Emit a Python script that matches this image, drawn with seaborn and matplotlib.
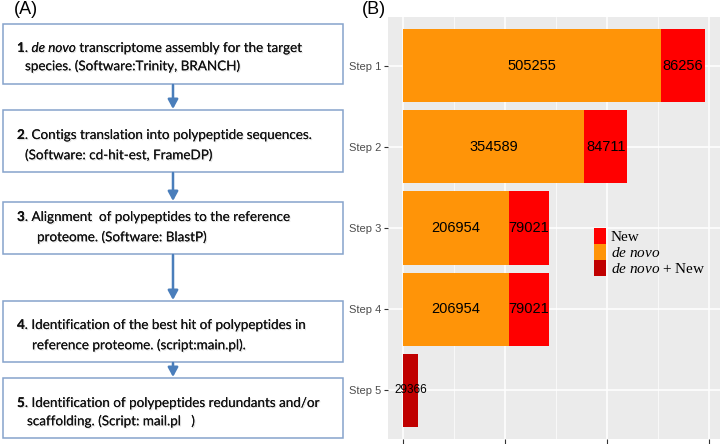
import matplotlib
matplotlib.use("Agg")
import matplotlib.pyplot as plt
import matplotlib.patheffects as pe
from matplotlib.patches import Rectangle, Patch
import pandas as pd
import seaborn as sns

# data for panel B
steps = ["Step 1", "Step 2", "Step 3", "Step 4", "Step 5"]
de_novo = [505255, 354589, 206954, 206954, 0]
new = [86256, 84711, 79021, 79021, 0]
combined = [0, 0, 0, 0, 29366]

# text of the flowchart (panel A)
box_lines = [
    [[("1", "bold"), (". ", "normal"), ("de novo", "italic"),
      (" transcriptome assembly for the target", "normal")],
     [("species. (Software:Trinity, BRANCH)", "normal")]],
    [[("2", "bold"), (". Contigs translation into polypeptide sequences.", "normal")],
     [("(Software: cd-hit-est, FrameDP)", "normal")]],
    [[("3", "bold"), (". Alignment  of polypeptides to the reference", "normal")],
     [("proteome. (Software: BlastP)", "normal")]],
    [[("4", "bold"), (". Identification of the best hit of polypeptides in", "normal")],
     [("reference proteome. (script:main.pl).", "normal")]],
    [[("5", "bold"), (". Identification of polypeptides redundants and/or", "normal")],
     [("scaffolding. (Script: mail.pl   )", "normal")]],
]

orange = "#FF9408"
red = "#FF0000"
darkred = "#C00000"

plt.rcParams["mathtext.fontset"] = "custom"
plt.rcParams["mathtext.it"] = "Liberation Serif:italic"
plt.rcParams["mathtext.rm"] = "Liberation Serif"

fig = plt.figure(figsize=(7.2, 4.44), dpi=100)
bg = fig.add_axes([0, 0, 1, 1])
bg.set_xlim(0, 720)
bg.set_ylim(444, 0)
bg.axis("off")

renderer = fig.canvas.get_renderer()


def text_width(s, style, size):
    kw = dict(fontsize=size, family="Lato")
    if style == "bold":
        kw["fontweight"] = "bold"
    if style == "italic":
        kw["fontstyle"] = "italic"
    t1 = bg.text(0, 0, s + "x", **kw)
    t2 = bg.text(0, 0, "x", **kw)
    w = t1.get_window_extent(renderer).width - t2.get_window_extent(renderer).width
    t1.remove()
    t2.remove()
    return w


def rich_line(x, y, parts, size=9.7):
    for s, style in parts:
        kw = dict(fontsize=size, family="Lato", va="center", ha="left", color="#111111")
        if style == "bold":
            kw["fontweight"] = "bold"
        if style == "italic":
            kw["fontstyle"] = "italic"
        t = bg.text(x, y, s, **kw)
        t.set_path_effects([pe.withSimplePatchShadow(offset=(0.8, -0.8), shadow_rgbFace="gray", alpha=0.25),
                            pe.Normal()])
        x += text_width(s, style, size)


boxes = [(24, 84), (110, 172), (202, 254), (301, 362), (378, 438)]
line_pos = [((17, 48), (25, 66)), ((17, 135), (25, 155)), ((17, 217), (37, 237)),
            ((17, 325), (32, 345)), ((17, 403), (27, 421))]

for (top, bot), lines, pos in zip(boxes, box_lines, line_pos):
    bg.add_patch(Rectangle((3, top), 340, bot - top, fill=False, edgecolor="#86A3CC", lw=1.1))
    for parts, (lx, ly) in zip(lines, pos):
        rich_line(lx, ly, parts)

for i in range(len(boxes) - 1):
    bg.annotate("", xy=(173, boxes[i + 1][0] - 1), xytext=(173, boxes[i][1] + 1),
                arrowprops=dict(arrowstyle="-|>,head_width=0.3,head_length=0.55",
                                color="#4A7EBB", lw=1.8, shrinkA=0, shrinkB=0))

bg.text(26, 10, "(A)", fontsize=13, family="Liberation Sans", ha="center", va="center")
bg.text(374, 10, "(B)", fontsize=13, family="Liberation Sans", ha="center", va="center")

# panel B
axb = fig.add_axes([388 / 720, 5 / 444, 332 / 720, 422 / 444])
df = pd.DataFrame({"step": steps, "de_novo": de_novo, "new": new, "combined": combined})
df["total"] = df["de_novo"] + df["new"] + df["combined"]
tot_colors = [darkred if c > 0 else red for c in combined]

sns.barplot(data=df, x="total", y="step", hue="step", palette=tot_colors, width=0.9,
            saturation=1, legend=False, ax=axb, zorder=2)
sns.barplot(data=df, x="de_novo", y="step", color=orange, width=0.9,
            saturation=1, ax=axb, zorder=3)

for i in range(len(steps)):
    if de_novo[i] > 0:
        axb.text(de_novo[i] / 2, i, str(de_novo[i]), ha="center", va="center",
                 fontsize=10.5, family="Liberation Sans", zorder=5)
    if new[i] > 0:
        axb.text(de_novo[i] + new[i] / 2, i, str(new[i]), ha="center", va="center",
                 fontsize=10.5, family="Liberation Sans", zorder=5)
    if combined[i] > 0:
        axb.text(combined[i] / 2, i, str(combined[i]), ha="center", va="center",
                 fontsize=8.5, family="Liberation Sans", zorder=5)

xmax = df["total"].max()
axb.set_xlim(-0.05 * xmax, 1.05 * xmax)
axb.set_ylim(len(steps) - 0.4, -0.6)
axb.set_facecolor("#EBEBEB")
for s in axb.spines.values():
    s.set_visible(False)
axb.set_xticks([0, 200000, 400000, 600000])
axb.set_xticks([100000, 300000, 500000], minor=True)
axb.set_xticklabels([])
axb.grid(True, which="major", color="white", lw=1.1)
axb.grid(True, which="minor", axis="x", color="white", lw=0.5)
axb.set_axisbelow(True)
axb.tick_params(axis="x", which="major", length=4, color="#333333")
axb.tick_params(axis="x", which="minor", length=0)
axb.tick_params(axis="y", length=3, color="#333333", labelsize=8, labelcolor="#4D4D4D", pad=2)
for lab in axb.get_yticklabels():
    lab.set_family("Liberation Sans")
axb.set_xlabel("")
axb.set_ylabel("")

handles = [Patch(facecolor=red, edgecolor="none"), Patch(facecolor=orange, edgecolor="none"),
           Patch(facecolor=darkred, edgecolor="none")]
labels = ["New", r"$\mathit{de\ novo}$", r"$\mathit{de\ novo}$ + New"]
axb.legend(handles, labels, loc="upper left", bbox_to_anchor=(0.62, 0.5), frameon=False,
           prop={"family": "Liberation Serif", "size": 11}, handlelength=0.8, handleheight=1.2,
           labelspacing=0, handletextpad=0.3, borderpad=0, borderaxespad=0)

fig.savefig("out.png", dpi=100)
